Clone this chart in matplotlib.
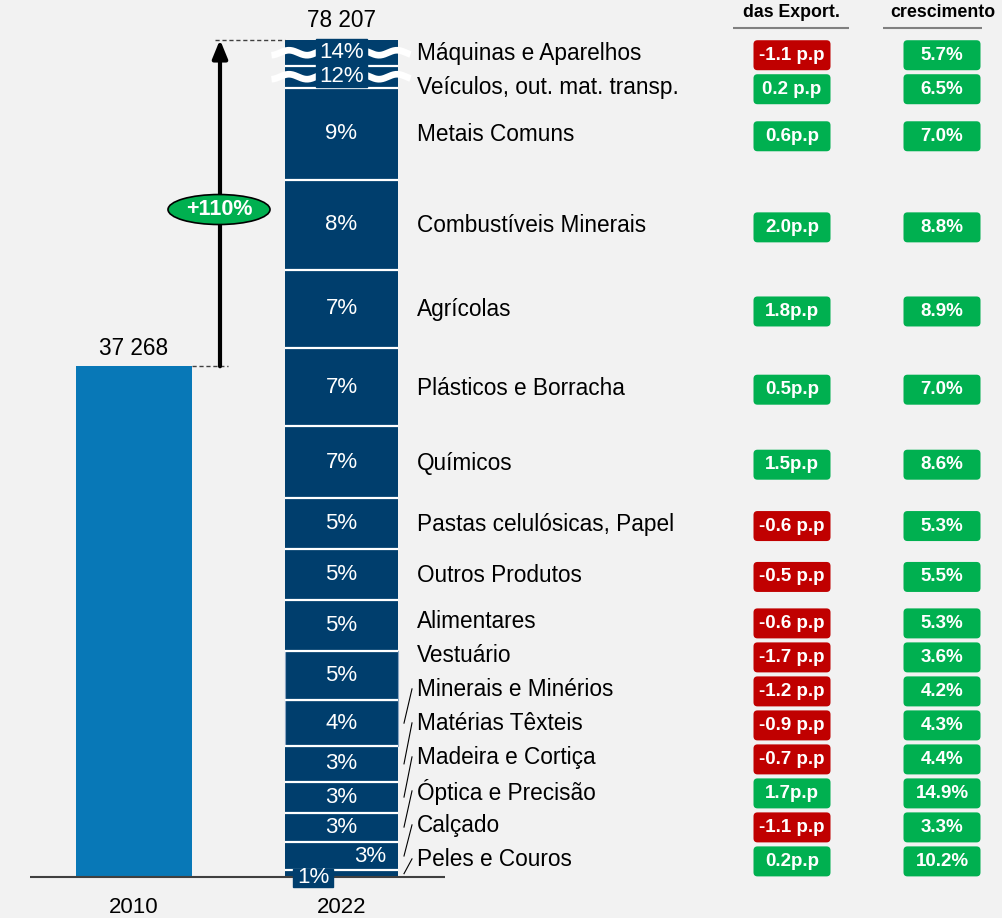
import numpy as np
import matplotlib.pyplot as plt
from matplotlib.patches import Ellipse, FancyBboxPatch, Rectangle

plt.rcParams['font.family'] = ['Liberation Sans', 'DejaVu Sans']

# exportações totais
anos = ['2010', '2022']
total = [37268, 78207]

# categorias de baixo para cima, peso (%) no total de 2022
categorias = ['Peles e Couros', 'Calçado', 'Óptica e Precisão', 'Madeira e Cortiça',
              'Matérias Têxteis', 'Minerais e Minérios', 'Vestuário', 'Alimentares',
              'Outros Produtos', 'Pastas celulósicas, Papel', 'Químicos',
              'Plásticos e Borracha', 'Agrícolas', 'Combustíveis Minerais',
              'Metais Comuns', 'Veículos, out. mat. transp.', 'Máquinas e Aparelhos']
peso = [0.6, 2.7, 2.7, 2.9, 3.3, 4.3, 4.6, 4.75, 4.75, 4.75,
        6.7, 7.3, 7.3, 8.4, 8.6, 12.05, 14.3]
quota = ['0.2p.p', '-1.1 p.p', '1.7p.p', '-0.7 p.p', '-0.9 p.p', '-1.2 p.p',
         '-1.7 p.p', '-0.6 p.p', '-0.5 p.p', '-0.6 p.p', '1.5p.p', '0.5p.p',
         '1.8p.p', '2.0p.p', '0.6p.p', '0.2 p.p', '-1.1 p.p']
cresc = [10.2, 3.3, 14.9, 4.4, 4.3, 4.2, 3.6, 5.3, 5.5, 5.3,
         8.6, 7.0, 8.9, 8.8, 7.0, 6.5, 5.7]

cabecalhos = ['das Export.', 'crescimento']

BG = '#f2f2f2'
AZUL = '#0878b7'
AZUL_ESC = '#003e6d'
VERDE = '#00b050'
VERMELHO = '#c00000'

fig = plt.figure(figsize=(10.02, 9.18), dpi=100, facecolor=BG)
ax = fig.add_axes([0, 0, 1, 1])
ax.set_facecolor(BG)
ax.set_xlim(0, 1002)
ax.set_ylim(-3000, 64000)
ax.axis('off')
u = 67000 / 918          # unidades de y por pixel

n = len(categorias)
n_corte = 2              # as duas maiores ficam com a barra cortada
corte = 0.17

valores = np.array(peso) / 100 * total[1]
altura = valores.copy()
altura[-n_corte:] *= corte
fundo = np.concatenate([[0], np.cumsum(altura)[:-1]])
centro = fundo + altura / 2
topo = fundo[-1] + altura[-1]

x_10, x_22 = 134, 341.5
larg_10, larg_22 = 116, 113

# barras
ax.bar(x_10, total[0], width=larg_10, color=AZUL, zorder=1)
for i in range(n):
    borda = '#8aa5c2' if categorias[i] in ('Vestuário', 'Minerais e Minérios') else 'none'
    ax.bar(x_22, altura[i], bottom=fundo[i], width=larg_22, color=AZUL_ESC,
           edgecolor=borda, linewidth=0.8, zorder=1)
ax.hlines(fundo[1:], x_22 - larg_22 / 2, x_22 + larg_22 / 2, color='white', lw=1.6, zorder=2)

# marcas de corte
xs = np.linspace(x_22 - 70, x_22 + 69, 200)
for i in range(n - n_corte, n):
    ys = centro[i] + 2.5 * u * np.sin(2 * np.pi * (xs - 280) / 36)
    ax.plot(xs, ys, color='white', lw=4.8, solid_capstyle='butt', zorder=3)
ax.add_patch(Rectangle((x_22 - 25, fundo[n - n_corte] + u), 51, topo - fundo[n - n_corte],
                       color=AZUL_ESC, zorder=4))

# eixo
ax.hlines(0, 30, 445, color='#404040', lw=1.5, zorder=2)

# percentagens dentro da barra
for i in range(n):
    txt = f'{peso[i]:.0f}%'
    if i == 0:
        ax.add_patch(Rectangle((x_22 - 48, -10 * u), 40, 18 * u, color=AZUL_ESC, zorder=4))
        ax.text(x_22 - 28, -u, txt, color='white', fontsize=16, ha='center', va='center', zorder=5)
    elif i == 1:
        ax.text(x_22 + 29, centro[i], txt, color='white', fontsize=16, ha='center', va='center', zorder=5)
    else:
        ax.text(x_22, centro[i], txt, color='white', fontsize=16, ha='center', va='center', zorder=5)

# totais e anos
ax.text(x_10, total[0] + 6 * u, f'{total[0]:,}'.replace(',', ' '), fontsize=16.3, ha='center', va='bottom')
ax.text(x_22, topo + 8 * u, f'{total[1]:,}'.replace(',', ' '), fontsize=16.3, ha='center', va='bottom')
for x, ano in zip([x_10, x_22], anos):
    ax.text(x, -36.5 * u, ano, fontsize=16, ha='center', va='baseline')

# seta de crescimento
x_seta = 220
ax.hlines(total[0], x_10 + larg_10 / 2, x_seta + 8, color='#404040', lw=1, linestyles=(0, (3, 2)))
ax.hlines(topo, x_seta - 5, x_22 - larg_22 / 2, color='#404040', lw=1, linestyles=(0, (3, 2)))
ax.annotate('', xy=(x_seta, topo), xytext=(x_seta, total[0]),
            arrowprops=dict(arrowstyle='-|>,head_length=1.1,head_width=0.45', lw=3,
                            color='black', shrinkA=0, shrinkB=0, mutation_scale=10))
y_el = total[0] + 0.48 * (topo - total[0])
ax.add_patch(Ellipse((x_seta - 1, y_el), 102, 30 * u, facecolor=VERDE, edgecolor='black',
                     lw=1.2, zorder=4))
ax.text(x_seta - 1, y_el, f'+{(total[1] / total[0] - 1) * 100:.0f}%', color='white',
        fontsize=15.5, fontweight='bold', ha='center', va='center', zorder=5)

# posições das etiquetas: afastar as que ficam demasiado juntas
passo = 34 * u
pos = centro.copy()
for i in range(n - 2, -1, -1):
    pos[i] = min(pos[i], pos[i + 1] - passo)
pos[0] = max(pos[0], 18 * u)
for i in range(1, n):
    pos[i] = max(pos[i], pos[i - 1] + passo)

x_lab = 417
for i in range(n):
    ax.text(x_lab, pos[i] - u, categorias[i], fontsize=16.3, ha='left', va='center')
    if i < 6:
        ax.plot([x_lab - 13, x_lab - 5], [centro[i], pos[i]], color='black', lw=0.8)

# colunas da direita
x_q, x_c = 792, 942
larg_b, alt_b = 77, 30
for i in range(n):
    yb = pos[i] - 2.5 * u
    v = float(quota[i].split('p')[0])
    for x, txt, cor in [(x_q, quota[i], VERMELHO if v < 0 else VERDE),
                        (x_c, f'{cresc[i]:.1f}%', VERDE)]:
        ax.add_patch(FancyBboxPatch((x - larg_b / 2, yb - alt_b / 2 * u), larg_b, alt_b * u,
                                    boxstyle='round,pad=0,rounding_size=4', mutation_aspect=u,
                                    facecolor=cor, edgecolor='none', zorder=3))
        ax.text(x, yb, txt, color='white', fontsize=13.5, fontweight='bold',
                ha='center', va='center', zorder=4)

y_cab = topo + 27 * u
for x, txt, (x0, x1) in zip([x_q - 1, x_c + 1], cabecalhos, [(733, 849), (883, 982)]):
    ax.text(x, y_cab, txt, fontsize=12.8, fontweight='bold', ha='center', va='center')
    ax.hlines(topo + 12 * u, x0, x1, color='#808080', lw=1.5)

fig.savefig('out.png', dpi=100, facecolor=BG)
